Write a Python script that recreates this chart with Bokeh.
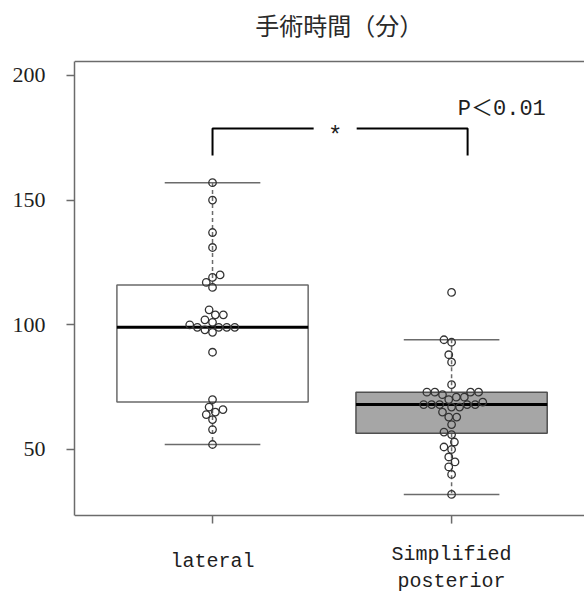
import math
from bokeh.plotting import figure
from bokeh.models import Range1d, FixedTicker, Span
from bokeh.core.properties import value
from bokeh.embed import file_html
from bokeh.resources import INLINE

# ---------------- data ----------------
categories = ["lateral", "Simplified\nposterior"]
cat_pos = [1, 2]

lateral_vals = [157, 150, 137, 131, 120, 119, 117, 115, 106, 104, 104, 102, 101,
                100, 99, 99, 99, 99, 98, 97, 89, 70, 67, 66, 65, 64, 62, 58, 52]
posterior_vals = [113, 94, 93, 88, 85, 76, 73, 73, 73, 73, 72, 71, 71, 70, 69,
                  68, 68, 68, 68, 68, 67, 67, 65, 63, 63, 60, 57, 56, 53, 51, 50,
                  47, 45, 43, 40, 32]

# box statistics
q1 = [69, 56.5]
med = [99, 68]
q3 = [116, 73]
whisk_lo = [52, 32]
whisk_hi = [157, 94]

y_ticks = [50, 100, 150, 200]
title_text = "手術時間（分）"
p_text = "P＜0.01"
star_text = "*"
bracket_x = [1, 2.067]
bracket_gap = [1.423, 1.603]
bracket_top = 178.7
bracket_bottom = 167.9

# ---------------- layout constants ----------------
X0, X1 = 0.4226, 2.556          # visible x range
AX_LO, AX_HI = 23.5, 205.6      # plotting box (axis bounds)
Y_BOT, Y_TOP = -8.54, 230.03    # whole canvas height in data units
FRAME_W, FRAME_H = 510.0, 595.0
KX = FRAME_W / (X1 - X0)
KY = FRAME_H / (Y_TOP - Y_BOT)
BOX_HALF = 0.4
CAP_HALF = 0.2
TICK_LEN = 8.0
GRAY = "#6b6b6b"
TXT = "#1e1e1e"


def to_y(px_from_top):
    return Y_TOP - px_from_top / KY


def swarm(vals, center, d=8.0):
    placed = []
    xs = [0.0] * len(vals)
    order = sorted(range(len(vals)), key=lambda i: vals[i])
    for i in order:
        y = vals[i] * KY
        near = [(px, py) for px, py in placed if abs(py - y) < d]
        cands = [0.0]
        for px, py in near:
            dx = math.sqrt(d * d - (py - y) ** 2)
            cands += [px + dx, px - dx]
        cands.sort(key=lambda c: (round(abs(c), 6), c))
        chosen = 0.0
        for c in cands:
            if all((c - px) ** 2 + (y - py) ** 2 >= d * d - 1e-6 for px, py in near):
                chosen = c
                break
        placed.append((chosen, y))
        xs[i] = center + chosen / KX
    return xs


p = figure(width=584, height=595, x_range=Range1d(X0, X1), y_range=Range1d(Y_BOT, Y_TOP),
           output_backend="svg", toolbar_location=None, x_axis_location=None,
           min_border_left=74, min_border_right=0, min_border_top=0, min_border_bottom=0)
p.outline_line_color = None
p.grid.visible = False
p.background_fill_color = "white"
p.border_fill_color = "white"

# y axis
ax = p.yaxis[0]
ax.bounds = (AX_LO, AX_HI)
ax.axis_line_color = GRAY
ax.axis_line_width = 1.5
ax.major_tick_line_color = GRAY
ax.major_tick_line_width = 1.5
ax.major_tick_out = 8
ax.major_tick_in = 0
ax.minor_tick_line_color = None
ax.major_label_text_color = TXT
ax.ticker = FixedTicker(ticks=y_ticks)
ax.major_label_text_font = "Liberation Serif"
ax.major_label_text_font_size = "22px"
ax.major_label_standoff = 21

# box frame lines (top and bottom) and x ticks
p.add_layout(Span(location=AX_HI, dimension="width", line_color=GRAY, line_width=1.5))
p.add_layout(Span(location=AX_LO, dimension="width", line_color=GRAY, line_width=1.5))
p.segment(x0=cat_pos, y0=[AX_LO] * 2, x1=cat_pos, y1=[AX_LO - TICK_LEN / KY] * 2,
          line_color=GRAY, line_width=1.5)

# x tick labels
lab_x, lab_y, lab_t = [], [], []
lateral_base = to_y(561.0)
line_bases = [to_y(554.0), to_y(581.0)]
for pos, lab in zip(cat_pos, categories):
    lines = lab.split("\n")
    if len(lines) == 1:
        lab_x.append(pos); lab_y.append(lateral_base); lab_t.append(lines[0])
    else:
        for ln, yb in zip(lines, line_bases):
            lab_x.append(pos); lab_y.append(yb); lab_t.append(ln)
p.text(x=lab_x, y=lab_y, text=lab_t, text_align="center", text_baseline="alphabetic",
       text_font=value("Liberation Mono"), text_font_size="20px", text_color=TXT)

# title
p.text(x=[1.53], y=[to_y(23.5)], text=[title_text], text_align="center", text_baseline="middle",
       text_font=value("Noto Sans CJK JP"), text_font_size="24px", text_color="#2a2a2a")

# whiskers (dashed)
p.segment(x0=cat_pos, y0=q3, x1=cat_pos, y1=whisk_hi, line_color=GRAY, line_width=1.5, line_dash="4 3")
p.segment(x0=cat_pos, y0=q1, x1=cat_pos, y1=whisk_lo, line_color=GRAY, line_width=1.5, line_dash="4 3")
# caps
p.segment(x0=[c - CAP_HALF for c in cat_pos], y0=whisk_hi, x1=[c + CAP_HALF for c in cat_pos], y1=whisk_hi,
          line_color=GRAY, line_width=1.5)
p.segment(x0=[c - CAP_HALF for c in cat_pos], y0=whisk_lo, x1=[c + CAP_HALF for c in cat_pos], y1=whisk_lo,
          line_color=GRAY, line_width=1.5)
# boxes
p.quad(left=[c - BOX_HALF for c in cat_pos], right=[c + BOX_HALF for c in cat_pos], bottom=q1, top=q3,
       fill_color=["white", "#a6a6a6"], line_color=["#6a6a6a", "#505050"], line_width=1.5)
# medians
p.segment(x0=[c - BOX_HALF for c in cat_pos], y0=med, x1=[c + BOX_HALF for c in cat_pos], y1=med,
          line_color="black", line_width=3)

# points
lx = swarm(lateral_vals, cat_pos[0])
px_ = swarm(posterior_vals, cat_pos[1])
p.scatter(x=lx + px_, y=lateral_vals + posterior_vals, marker="circle", size=7.5,
          fill_color=None, line_color="#333333", line_width=1.3)

# significance bracket
p.multi_line(xs=[[bracket_x[0], bracket_x[0], bracket_gap[0]], [bracket_gap[1], bracket_x[1], bracket_x[1]]],
             ys=[[bracket_bottom, bracket_top, bracket_top], [bracket_top, bracket_top, bracket_bottom]],
             line_color="black", line_width=2)
p.text(x=[(bracket_gap[0] + bracket_gap[1]) / 2], y=[bracket_top - 3.0 / KY], text=[star_text],
       text_align="center", text_baseline="middle", text_font=value("Liberation Mono"),
       text_font_size="24px", text_color=TXT, y_offset=5)
p.text(x=[2.21], y=[to_y(108.5)], text=[p_text], text_align="center", text_baseline="middle",
       text_font=value("Liberation Mono, Noto Sans CJK JP"), text_font_size="22px", text_color=TXT)

open("out.html", "w").write(file_html(p, INLINE))
